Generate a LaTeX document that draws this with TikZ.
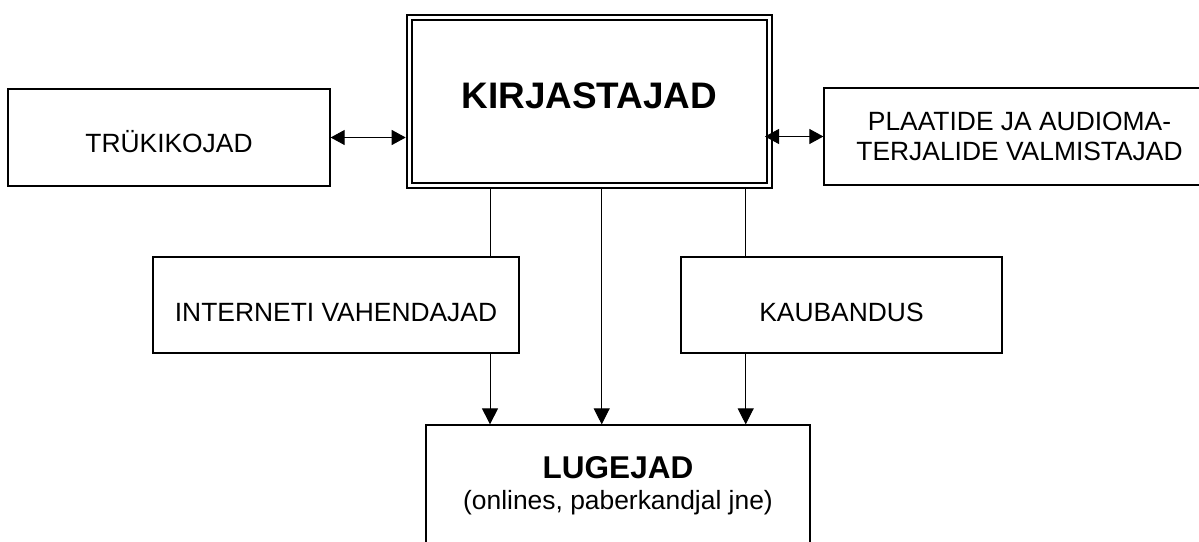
\documentclass[tikz,border=0pt]{standalone}
\usepackage{fontspec}
\setmainfont{Liberation Sans}
\usetikzlibrary{arrows.meta}

\begin{document}
\begin{tikzpicture}
[
x=0.5pt, y=-0.5pt,
box/.style={rectangle, draw=black, line width=0.65pt, inner sep=0pt, font=\fontsize{13.2pt}{15pt}\selectfont},
hub/.style={rectangle, draw=black, double, line width=0.9pt, double distance=1.7pt, outer sep=1.75pt, inner sep=0pt, font=\bfseries\fontsize{18.45pt}{22pt}\selectfont},
tip/.style={-{Triangle[length=8pt, width=8pt]}, line width=0.5pt},
twotip/.style={{Triangle[length=7pt, width=7.5pt]}-{Triangle[length=7pt, width=7.5pt]}, line width=0.5pt}
]
\useasboundingbox (0,0) rectangle (1199,541);
\clip (0,0) rectangle (1199,541);

%Nodes
\node[hub, minimum width=180.15pt, minimum height=84pt, text height=6.5pt, text depth=0pt] (kirj)     at (589.35,101.5) {KIRJASTAJAD};
\node[box, minimum width=161pt, minimum height=48.5pt, text height=15.2pt, text depth=0pt]  (trykk)    at (169,137.5)    {TRÜKIKOJAD};
\node[box, minimum width=195.5pt, minimum height=48.5pt, align=center]                      (plaat)    at (1019.5,136.5) {PLAATIDE JA AUDIOMA-\\TERJALIDE VALMISTAJAD};
\node[box, minimum width=183pt, minimum height=48pt, text height=16pt, text depth=0pt]      (internet) at (336,305)      {INTERNETI VAHENDAJAD};
\node[box, minimum width=160.5pt, minimum height=48pt, text height=16pt, text depth=0pt]    (kaub)     at (841.5,305)    {KAUBANDUS};
\node[box, minimum width=192pt, minimum height=60.85pt, align=center, font=\fontsize{13.2pt}{15.5pt}\selectfont] (lug) at (618,485.85)
  {{\bfseries\fontsize{15.75pt}{15.5pt}\selectfont LUGEJAD}\\(onlines, paberkandjal jne)};

\coordinate (xl) at (490,0);
\coordinate (xm) at (601.7,0);
\coordinate (xr) at (745.7,0);

%Lines
\draw[twotip] (trykk.east) -- (trykk.east -| kirj.west);
\draw[twotip, shorten >=-4pt] (plaat.west) -- (plaat.west -| kirj.east);
\draw[line width=0.5pt] (kirj.south -| xl) -- (internet.north -| xl);
\draw[line width=0.5pt] (kirj.south -| xr) -- (kaub.north -| xr);
\draw[tip] (internet.south -| xl) -- (lug.north -| xl);
\draw[tip] (kirj.south -| xm)     -- (lug.north -| xm);
\draw[tip] (kaub.south -| xr)     -- (lug.north -| xr);
\end{tikzpicture}
\end{document}
